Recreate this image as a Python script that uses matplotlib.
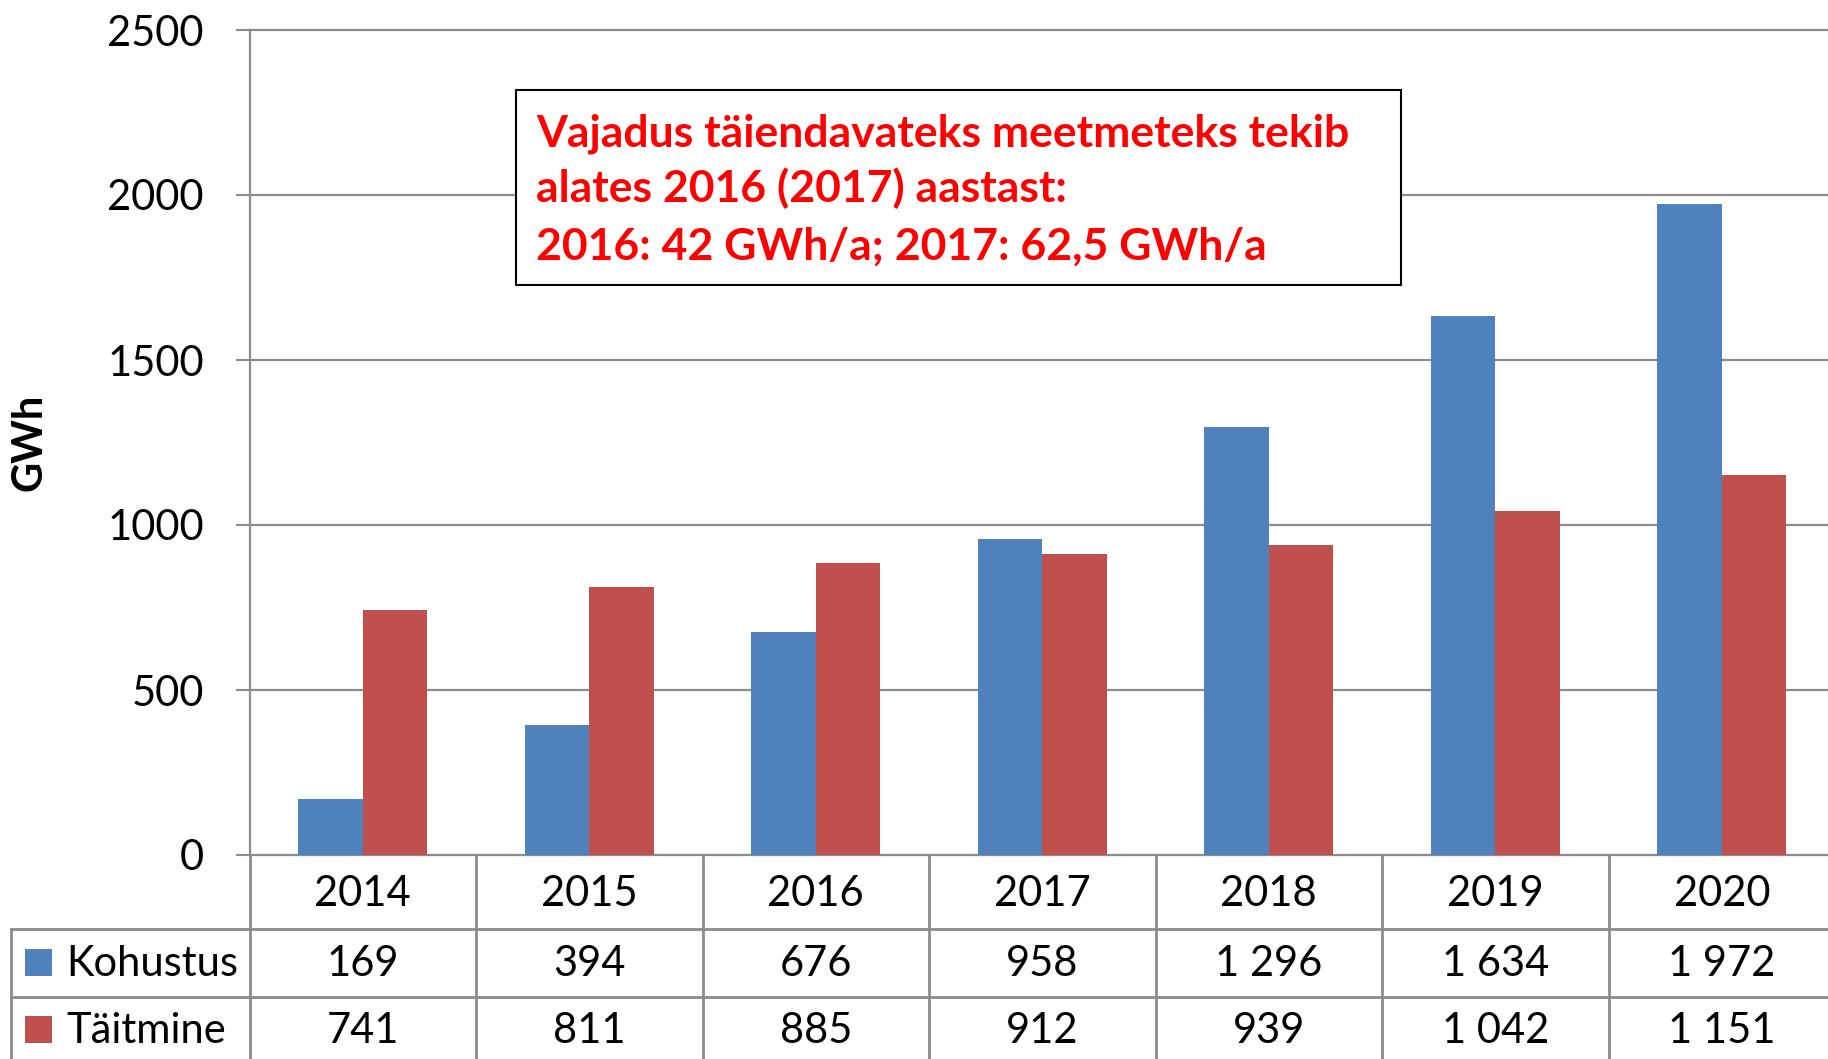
import matplotlib
matplotlib.use("Agg")
import matplotlib.pyplot as plt
from matplotlib.patches import Rectangle
from matplotlib.lines import Line2D
from matplotlib.transforms import blended_transform_factory

# ---- data ----
years = ["2014", "2015", "2016", "2017", "2018", "2019", "2020"]
kohustus = [169, 394, 676, 958, 1296, 1634, 1972]
taitmine = [741, 811, 885, 912, 939, 1042, 1151]
series_names = ["Kohustus", "Täitmine"]
yticks = [0, 500, 1000, 1500, 2000, 2500]
ylabel = "GWh"
note_lines = ["Vajadus täiendavateks meetmeteks tekib",
              "alates 2016 (2017) aastast:",
              "2016: 42 GWh/a; 2017: 62,5 GWh/a"]

# ---- style ----
W, H = 1828, 1059
BLUE = "#4F81BD"
RED = "#C0504D"
GRID = "#8C8C8C"
FONT = "Lato"
FS = 30

def fx(p):
    return p / W

def fy(p):
    return 1 - p / H

def fmt(v):
    return f"{v:,}".replace(",", " ")

fig = plt.figure(figsize=(W / 100, H / 100), dpi=100)
ax_left, ax_right, ax_top, ax_bot = 249.5, 249.5 + 7 * 226.5, 30.0, 855.0
ax = fig.add_axes([fx(ax_left), fy(ax_bot), fx(ax_right - ax_left), (ax_bot - ax_top) / H])

x = list(range(len(years)))
bw = 0.284
ax.bar([i - bw / 2 for i in x], kohustus, width=bw, color=BLUE, zorder=3, linewidth=0)
ax.bar([i + bw / 2 for i in x], taitmine, width=bw, color=RED, zorder=3, linewidth=0)

ax.set_xlim(-0.5, len(years) - 0.5)
ax.set_ylim(0, 2500)
ax.set_yticks(yticks)
ax.set_yticklabels([str(t) for t in yticks], fontsize=FS, fontfamily=FONT)
ax.set_xticks([])
ax.tick_params(axis="y", length=10, width=1.5, color=GRID, pad=23)
for t in yticks:
    ax.axhline(t, color=GRID, lw=1.6, zorder=1, clip_on=False)
for s in ["top", "right", "bottom"]:
    ax.spines[s].set_visible(False)
ax.spines["left"].set_color(GRID)
ax.spines["left"].set_linewidth(1.6)
fig.text(fx(30), fy(442), ylabel, rotation=90, ha="center", va="center",
         fontsize=FS, fontweight="bold", fontfamily=FONT)

# ---- data table ----
bt = blended_transform_factory(ax.transData, fig.transFigure)
row_y = [855.0, 929.0, 997.0, H + 5]
for i in range(len(years) + 1):
    fig.add_artist(Line2D([i - 0.5, i - 0.5], [fy(row_y[0]), fy(row_y[-1])], transform=bt,
                          color=GRID, lw=2, clip_on=False))
for yy in row_y[1:3]:
    fig.add_artist(Line2D([fx(10.7), 1.0], [fy(yy), fy(yy)], transform=fig.transFigure,
                          color=GRID, lw=2))
fig.add_artist(Line2D([fx(10.7), fx(10.7)], [fy(row_y[1]), fy(row_y[-1])],
                      transform=fig.transFigure, color=GRID, lw=2))

for i, yr in enumerate(years):
    fig.text(i, fy(906.5), yr, transform=bt, ha="center", va="baseline",
             fontsize=FS, fontfamily=FONT)
    fig.text(i, fy(976.5), fmt(kohustus[i]), transform=bt, ha="center", va="baseline",
             fontsize=FS, fontfamily=FONT)
    fig.text(i, fy(1043), fmt(taitmine[i]), transform=bt, ha="center", va="baseline",
             fontsize=FS, fontfamily=FONT)

for name, col, base, top in [(series_names[0], BLUE, 976.0, 949.0),
                             (series_names[1], RED, 1042.7, 1016.0)]:
    fig.patches.append(Rectangle((fx(25), fy(top + 27)), fx(27), 27 / H, facecolor=col,
                                 edgecolor="none", transform=fig.transFigure, figure=fig))
    fig.text(fx(66), fy(base), name, ha="left", va="baseline", fontsize=FS, fontfamily=FONT)

# ---- annotation box ----
box = Rectangle((fx(516.4), fy(285)), fx(1400.8 - 516.4), (285 - 90) / H,
                facecolor="white", edgecolor="black", lw=1.5, transform=fig.transFigure,
                figure=fig, zorder=5)
fig.patches.append(box)
for line, base in zip(note_lines, [146.0, 202.5, 259.5]):
    fig.text(fx(536), fy(base), line, ha="left", va="baseline", color="#FF0000",
             fontsize=32, fontweight="bold", fontfamily=FONT, zorder=6)

fig.savefig("out.png", dpi=100)
